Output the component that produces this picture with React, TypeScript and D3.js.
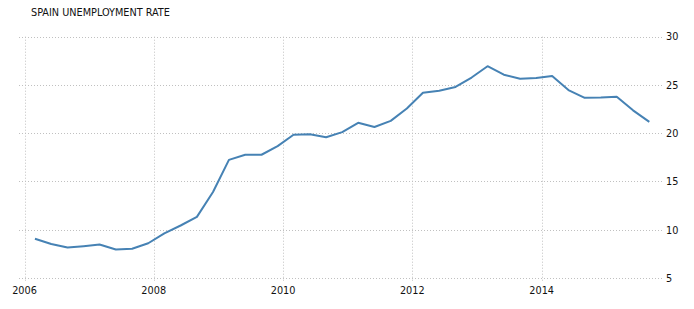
import React from "react";
import * as d3 from "d3";

const title = "SPAIN UNEMPLOYMENT RATE";
const dates = [
  "2006-03-01","2006-06-01","2006-09-01","2006-12-01",
  "2007-03-01","2007-06-01","2007-09-01","2007-12-01",
  "2008-03-01","2008-06-01","2008-09-01","2008-12-01",
  "2009-03-01","2009-06-01","2009-09-01","2009-12-01",
  "2010-03-01","2010-06-01","2010-09-01","2010-12-01",
  "2011-03-01","2011-06-01","2011-09-01","2011-12-01",
  "2012-03-01","2012-06-01","2012-09-01","2012-12-01",
  "2013-03-01","2013-06-01","2013-09-01","2013-12-01",
  "2014-03-01","2014-06-01","2014-09-01","2014-12-01",
  "2015-03-01","2015-06-01","2015-09-01",
];
const rates = [
  9.07, 8.53, 8.15, 8.30,
  8.47, 7.95, 8.03, 8.60,
  9.63, 10.44, 11.33, 13.91,
  17.24, 17.77, 17.77, 18.66,
  19.84, 19.89, 19.59, 20.11,
  21.08, 20.64, 21.28, 22.56,
  24.19, 24.40, 24.79, 25.77,
  26.94, 26.06, 25.65, 25.73,
  25.93, 24.47, 23.67, 23.70,
  23.78, 22.37, 21.18,
];
const xTickYears = [2006, 2008, 2010, 2012, 2014];
const yTicks = [5, 10, 15, 20, 25, 30];

const W = 694, H = 309;
const plotLeft = 19, plotRight = 662;
const font = "'DejaVu Sans Condensed', 'DejaVu Sans', sans-serif";

export default function App() {
  const parse = d3.timeParse("%Y-%m-%d");
  const x = d3.scaleTime()
    .domain([new Date(2006, 0, 1), new Date(2014, 0, 1)])
    .range([24.5, 541.7]);
  const y = d3.scaleLinear().domain([5, 30]).range([278, 36.7]);
  const pts = dates.map((d, i) => [x(parse(d) as Date), y(rates[i])] as [number, number]);
  const line = d3.line().curve(d3.curveLinear)(pts) || "";
  return (
    <svg width={W} height={H} style={{ position: "absolute", left: 0, top: 0, background: "#fff" }}>
      <text x={31} y={16} fontFamily={font} fontSize={10.8} fill="#111">{title}</text>
      {yTicks.map((t) => (
        <g key={"y" + t}>
          <line x1={plotLeft} x2={plotRight} y1={Math.round(y(t)) + 0.5} y2={Math.round(y(t)) + 0.5}
            stroke="#c0c0c0" strokeWidth={1} strokeDasharray="1,2" />
          <text x={666} y={y(t)} dy="0.35em" fontFamily={font} fontSize={10.8} fill="#111">{t}</text>
        </g>
      ))}
      {xTickYears.map((yr) => {
        const px = Math.round(x(new Date(yr, 0, 1))) + 0.5;
        return (
          <g key={"x" + yr}>
            <line x1={px} x2={px} y1={36.7} y2={282} stroke="#c0c0c0" strokeWidth={1} strokeDasharray="1,2" />
            <text x={x(new Date(yr, 0, 1))} y={290} dy="0.35em" textAnchor="middle" fontFamily={font} fontSize={10.8} fill="#111">{yr}</text>
          </g>
        );
      })}
      <path d={line} fill="none" stroke="#4682b4" strokeWidth={2} strokeLinejoin="round" />
    </svg>
  );
}
